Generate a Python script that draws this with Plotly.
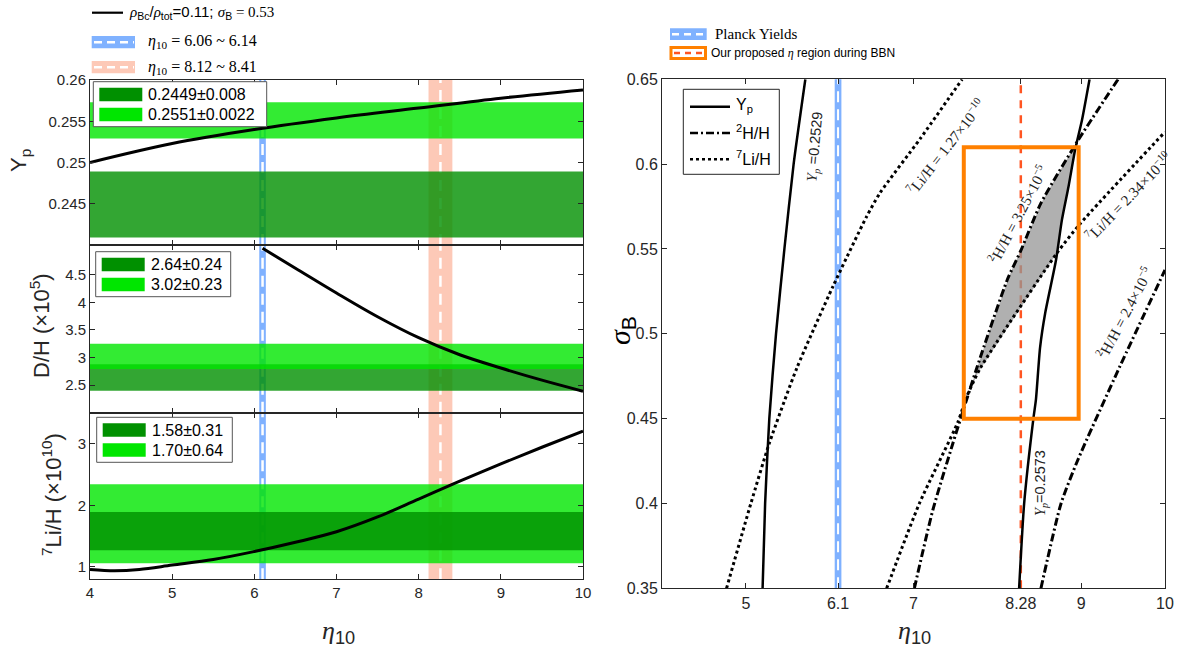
import plotly.graph_objects as go
import numpy as np

# ---------------- data: left panels ----------------
eta_Yp = [4, 5, 6, 7, 8, 9, 10]
Yp_vals = [0.2500, 0.2523, 0.2540, 0.2554, 0.2566, 0.2578, 0.2588]

eta_DH = [6.1, 6.5, 7.0, 7.5, 8.0, 8.5, 9.0, 9.5, 10.0]
DH_vals = [4.98, 4.62, 4.17, 3.74, 3.36, 3.05, 2.81, 2.59, 2.39]

eta_Li = [4.0, 4.3, 4.6, 5.0, 5.5, 6.0, 6.5, 7.0, 7.5, 8.0, 8.5, 9.0, 9.5, 10.0]
Li_vals = [0.96, 0.94, 0.96, 1.03, 1.12, 1.25, 1.40, 1.57, 1.81, 2.10, 2.39, 2.67, 2.94, 3.20]

Yp_obs_center = [0.2449, 0.2551]
Yp_obs_err = [0.004, 0.0022]
Yp_obs_labels = ["0.2449±0.008", "0.2551±0.0022"]
DH_obs_center = [2.64, 3.02]
DH_obs_err = [0.24, 0.23]
DH_obs_labels = ["2.64±0.24", "3.02±0.23"]
Li_obs_center = [1.58, 1.70]
Li_obs_err = [0.31, 0.64]
Li_obs_labels = ["1.58±0.31", "1.70±0.64"]

planck_eta = [6.06, 6.14]
proposed_eta = [8.12, 8.41]
eta_mark = 8.28

# ---------------- data: right panel contours ----------------
sig_Yp2529 = [0.35, 0.40, 0.45, 0.50, 0.55, 0.60, 0.65]
eta_Yp2529 = [5.20, 5.23, 5.28, 5.36, 5.46, 5.57, 5.71]

sig_Yp2573 = [0.35, 0.40, 0.45, 0.461, 0.492, 0.512, 0.5435, 0.567, 0.587, 0.609, 0.626, 0.65]
eta_Yp2573 = [8.26, 8.32, 8.43, 8.46, 8.51, 8.57, 8.70, 8.77, 8.85, 8.93, 9.01, 9.10]

sig_Li127 = [0.35, 0.40, 0.4355, 0.48, 0.528, 0.569, 0.583, 0.615, 0.65]
eta_Li127 = [4.77, 5.06, 5.28, 5.61, 6.04, 6.44, 6.60, 7.08, 7.58]

sig_Li234 = [0.35, 0.40, 0.448, 0.463, 0.48, 0.5474, 0.565, 0.619]
eta_Li234 = [6.68, 7.07, 7.53, 7.635, 7.80, 8.708, 8.99, 10.0]

sig_D325 = [0.35, 0.396, 0.4355, 0.4806, 0.532, 0.549, 0.577, 0.613, 0.65]
eta_D325 = [7.01, 7.23, 7.47, 7.76, 8.12, 8.28, 8.52, 8.95, 9.44]

sig_D24 = [0.35, 0.40, 0.4256, 0.4806, 0.5376]
eta_D24 = [8.52, 8.76, 8.96, 9.46, 10.0]

box_eta = [7.6, 8.97]
box_sigma = [0.45, 0.61]

# ---------------- layout helpers ----------------
W, H = 1177, 658
def PX(x): return x / W
def PY(y): return 1 - y / H

SANS = "Liberation Sans"
SERIF = "Liberation Serif"
AX = "#262626"
DARK = "rgb(0,144,0)"
LIGHT = "rgb(0,230,0)"
DARK_A = "rgba(0,144,0,0.8)"
LIGHT_A = "rgba(0,230,0,0.8)"
BLUE_A = "rgba(0,100,255,0.5)"
BLUE_S = "rgb(128,178,255)"
SALMON_A = "rgba(250,100,50,0.35)"
SALMON_S = "rgb(253,201,183)"
ORANGE = "#FF8000"
RED = "#FF5522"
WDASH = "11px,7px"
DASHDOT = "8px,3px,2px,3px"

fig = go.Figure()

# ---------------- left panels ----------------
panels = [
    ("x", "y", eta_Yp, Yp_vals, Yp_obs_center, Yp_obs_err, [0, 1]),
    ("x2", "y2", eta_DH, DH_vals, DH_obs_center, DH_obs_err, [0, 1]),
    ("x3", "y3", eta_Li, Li_vals, Li_obs_center, Li_obs_err, [1, 0]),
]
shapes = []
for xr, yr, ex, vy, cen, err, order in panels:
    cols = [DARK_A, LIGHT_A]
    for k in order:
        shapes.append(dict(type="rect", xref=xr, yref=yr, x0=4, x1=10,
                           y0=cen[k] - err[k], y1=cen[k] + err[k],
                           fillcolor=cols[k], line=dict(width=0), layer="below"))
    shapes.append(dict(type="rect", xref=xr, yref=yr + " domain", x0=planck_eta[0], x1=planck_eta[1],
                       y0=0, y1=1, fillcolor=BLUE_A, line=dict(width=0), layer="below"))
    shapes.append(dict(type="rect", xref=xr, yref=yr + " domain", x0=proposed_eta[0], x1=proposed_eta[1],
                       y0=0, y1=1, fillcolor=SALMON_A, line=dict(width=0), layer="below"))
    for c in [np.mean(planck_eta), np.mean(proposed_eta)]:
        shapes.append(dict(type="line", xref=xr, yref=yr + " domain", x0=c, x1=c, y0=0, y1=1,
                           line=dict(color="white", width=2.5, dash=WDASH), layer="below"))
    fig.add_trace(go.Scatter(x=ex, y=vy, xaxis=xr, yaxis=yr, mode="lines",
                             line=dict(color="black", width=3, shape="spline"), showlegend=False))

# ---------------- right panel ----------------
shapes.append(dict(type="rect", xref="x4", yref="y4 domain", x0=planck_eta[0], x1=planck_eta[1],
                   y0=0, y1=1, fillcolor=BLUE_A, line=dict(width=0), layer="below"))
shapes.append(dict(type="line", xref="x4", yref="y4 domain", x0=np.mean(planck_eta), x1=np.mean(planck_eta),
                   y0=0, y1=1, line=dict(color="white", width=2, dash=WDASH), layer="below"))
shapes.append(dict(type="line", xref="x4", yref="y4 domain", x0=eta_mark, x1=eta_mark,
                   y0=0, y1=1, line=dict(color=RED, width=2.5, dash="8px,7px"), layer="below"))

# allowed region (grey)
sg = np.linspace(0.43, 0.63, 600)
lft = np.interp(sg, sig_D325, eta_D325)
rgt = np.minimum(np.interp(sg, sig_Li234, eta_Li234), np.interp(sg, sig_Yp2573, eta_Yp2573))
m = rgt > lft
reg_x = np.concatenate([lft[m], rgt[m][::-1]])
reg_y = np.concatenate([sg[m], sg[m][::-1]])
fig.add_trace(go.Scatter(x=reg_x, y=reg_y, xaxis="x4", yaxis="y4", mode="lines", fill="toself",
                         fillcolor="rgba(150,150,150,0.75)", line=dict(width=0), showlegend=False))

for sx, ex, dash in [(sig_D325, eta_D325, DASHDOT), (sig_D24, eta_D24, DASHDOT),
                     (sig_Li127, eta_Li127, "dot"), (sig_Li234, eta_Li234, "dot"),
                     (sig_Yp2529, eta_Yp2529, "solid"), (sig_Yp2573, eta_Yp2573, "solid")]:
    fig.add_trace(go.Scatter(x=ex, y=sx, xaxis="x4", yaxis="y4", mode="lines",
                             line=dict(color="black", width=3 if dash != "solid" else 2.5,
                                       dash=dash, shape="spline", smoothing=0.6),
                             showlegend=False))

shapes.append(dict(type="rect", xref="x4", yref="y4", x0=box_eta[0], x1=box_eta[1],
                   y0=box_sigma[0], y1=box_sigma[1], line=dict(color=ORANGE, width=4), layer="above"))

# ---------------- manual legends ----------------
ann = []
def txt(x, y, t, size=16, family=SANS, xanchor="left", angle=0, color="black", xref="paper", yref="paper"):
    ann.append(dict(x=x, y=y, xref=xref, yref=yref, text=t, showarrow=False, xanchor=xanchor,
                    yanchor="middle", textangle=angle, font=dict(family=family, size=size, color=color)))

# left inner legends
inner = [
    (93.3, 81.7, 266.7, 126.7, Yp_obs_labels),
    (95.7, 251.7, 230.7, 296.7, DH_obs_labels),
    (96.7, 417.3, 232.3, 462.3, Li_obs_labels),
]
for x0, y0, x1, y1, labs in inner:
    shapes.append(dict(type="rect", xref="paper", yref="paper", x0=PX(x0), x1=PX(x1), y0=PY(y0), y1=PY(y1),
                       fillcolor="white", line=dict(color="#555555", width=1), layer="above"))
    for k, col in enumerate([DARK, LIGHT]):
        yt = y0 + 6 + k * 20
        shapes.append(dict(type="rect", xref="paper", yref="paper", x0=PX(x0 + 6), x1=PX(x0 + 49),
                           y0=PY(yt), y1=PY(yt + 13.5), fillcolor=col, line=dict(width=0), layer="above"))
        txt(PX(x0 + 53), PY(yt + 7), labs[k], size=16)

# top-left legend
shapes.append(dict(type="line", xref="paper", yref="paper", x0=PX(92), x1=PX(123), y0=PY(12.7), y1=PY(12.7),
                   line=dict(color="black", width=2.2)))
txt(PX(127), PY(13),
    '<span style="font-family:Liberation Serif"><i>ρ</i></span><sub>Bc</sub>/'
    '<span style="font-family:Liberation Serif"><i>ρ</i></span><sub>tot</sub>=0.11; '
    '<span style="font-family:Liberation Serif"><i>σ</i></span><sub>B</sub>'
    '<span style="font-family:Liberation Serif"> = 0.53</span>', size=15)
for yy, fill, lab in [(36, BLUE_S, "6.06 ~ 6.14"), (61, SALMON_S, "8.12 ~ 8.41")]:
    shapes.append(dict(type="rect", xref="paper", yref="paper", x0=PX(91.7), x1=PX(135), y0=PY(yy), y1=PY(yy + 12.3),
                       fillcolor=fill, line=dict(width=0)))
    shapes.append(dict(type="line", xref="paper", yref="paper", x0=PX(94), x1=PX(134), y0=PY(yy + 6.2), y1=PY(yy + 6.2),
                       line=dict(color="white", width=2.5, dash="8px,5px")))
    txt(PX(146), PY(yy + 6), "<i>η</i><sub>10</sub> = " + lab, size=16, family=SERIF)

# top-right legend
shapes.append(dict(type="rect", xref="paper", yref="paper", x0=PX(670), x1=PX(706.7), y0=PY(28.3), y1=PY(40),
                   fillcolor=BLUE_S, line=dict(width=0)))
shapes.append(dict(type="line", xref="paper", yref="paper", x0=PX(672), x1=PX(705), y0=PY(34.2), y1=PY(34.2),
                   line=dict(color="white", width=2.5, dash="7px,5px")))
txt(PX(713), PY(34), "Planck Yields", size=15, family=SERIF)
shapes.append(dict(type="rect", xref="paper", yref="paper", x0=PX(671), x1=PX(705.5), y0=PY(47.5), y1=PY(58.5),
                   fillcolor="white", line=dict(color=ORANGE, width=3)))
shapes.append(dict(type="line", xref="paper", yref="paper", x0=PX(674), x1=PX(703), y0=PY(53), y1=PY(53),
                   line=dict(color=RED, width=2.5, dash="6px,5px")))
txt(PX(709), PY(53), 'Our proposed <span style="font-family:Liberation Serif"><i>η</i></span> region during BBN', size=12)

# right inner legend
shapes.append(dict(type="rect", xref="paper", yref="paper", x0=PX(683.3), x1=PX(779.3), y0=PY(89.3), y1=PY(174.3),
                   fillcolor="white", line=dict(color=AX, width=1), layer="above"))
for yy, dash, lab in [(106.7, "solid", "Y<sub>p</sub>"), (133, DASHDOT, "<sup>2</sup>H/H"),
                      (159.3, "dot", "<sup>7</sup>Li/H")]:
    shapes.append(dict(type="line", xref="paper", yref="paper", x0=PX(690), x1=PX(730), y0=PY(yy), y1=PY(yy),
                       line=dict(color="black", width=2.5, dash=dash), layer="above"))
    txt(PX(734), PY(yy - 1), lab, size=16)

# right-panel contour labels
yser = '<span style="font-family:Liberation Serif"><i>Y<sub>p</sub></i></span>'
for t, ex, sy, ang, fam, sz in [
    (yser + " =0.2529", 5.825, 0.6103, -85, SANS, 14.5),
    ("<sup>7</sup>Li/H = 1.27×10<sup>−10</sup>", 7.39, 0.6105, -52, SERIF, 15),
    ("<sup>2</sup>H/H = 3.25×10<sup>−5</sup>", 8.245, 0.5705, -62, SERIF, 15),
    ("<sup>7</sup>Li/H = 2.34×10<sup>−10</sup>", 9.56, 0.5815, -46, SERIF, 15),
    ("<sup>2</sup>H/H = 2.4×10<sup>−5</sup>", 9.51, 0.5125, -62, SERIF, 15),
    (yser + "=0.2573", 8.521, 0.412, -90, SANS, 14.5),
]:
    ann.append(dict(x=ex, y=sy, xref="x4", yref="y4", text=t, showarrow=False, textangle=ang,
                    xanchor="center", yanchor="middle", font=dict(family=fam, size=sz, color="#222222")))

# axis titles
txt(PX(20), PY(161), "Y<sub>p</sub>", size=22, xanchor="center", angle=-90, color=AX)
txt(PX(40), PY(326), "D/H (×10<sup>5</sup>)", size=22, xanchor="center", angle=-90, color=AX)
txt(PX(52), PY(495), "<sup>7</sup>Li/H (×10<sup>10</sup>)", size=22, xanchor="center", angle=-90, color=AX)
eta_t = '<span style="font-family:Liberation Serif"><i>η</i></span><sub>10</sub>'
txt(PX(338), PY(632), eta_t, size=26, xanchor="center", color=AX)
txt(PX(914), PY(632), eta_t, size=26, xanchor="center", color=AX)
txt(PX(621), PY(331), '<span style="font-family:Liberation Serif"><i>σ</i></span><sub>B</sub>',
    size=30, xanchor="center", angle=-90, color="black")

# ---------------- axes ----------------
base = dict(showline=True, linecolor=AX, linewidth=1, mirror="ticks", ticks="inside", ticklen=5,
            tickcolor=AX, showgrid=False, zeroline=False, automargin=False,
            tickfont=dict(family=SANS, size=15, color=AX))
LEFT = [PX(90), PX(583)]
RIGHT = [PX(662), PX(1165)]
dom1 = [PY(245), PY(80)]
dom2 = [PY(412.7), PY(245)]
dom3 = [PY(579.3), PY(412.7)]
domR = [PY(588.3), PY(79.3)]

xt = [4, 5, 6, 7, 8, 9, 10]
fig.update_layout(
    width=W, height=H, margin=dict(l=0, r=0, t=0, b=0, pad=0), autosize=False,
    paper_bgcolor="white", plot_bgcolor="white", showlegend=False,
    shapes=shapes, annotations=ann,
    xaxis=dict(base, domain=LEFT, anchor="y", range=[4, 10], tickvals=xt, showticklabels=False),
    xaxis2=dict(base, domain=LEFT, anchor="y2", range=[4, 10], tickvals=xt, showticklabels=False),
    xaxis3=dict(base, domain=LEFT, anchor="y3", range=[4, 10], tickvals=xt, ticktext=[str(v) for v in xt]),
    yaxis=dict(base, domain=dom1, anchor="x", range=[0.24, 0.26],
               tickvals=[0.245, 0.25, 0.255, 0.26], ticktext=["0.245", "0.25", "0.255", "0.26"]),
    yaxis2=dict(base, domain=dom2, anchor="x2", range=[2.0, 5.04],
                tickvals=[2.5, 3, 3.5, 4, 4.5], ticktext=["2.5", "3", "3.5", "4", "4.5"]),
    yaxis3=dict(base, domain=dom3, anchor="x3", range=[0.8, 3.5],
                tickvals=[1, 2, 3], ticktext=["1", "2", "3"]),
    xaxis4=dict(base, domain=RIGHT, anchor="y4", range=[4, 10],
                tickvals=[5, 6.1, 7, 8.28, 9, 10], ticktext=["5", "6.1", "7", "8.28", "9", "10"],
                tickfont=dict(family=SANS, size=16, color=AX)),
    yaxis4=dict(base, domain=domR, anchor="x4", range=[0.35, 0.65],
                tickvals=[0.35, 0.4, 0.45, 0.5, 0.55, 0.6, 0.65],
                ticktext=["0.35", "0.4", "0.45", "0.5", "0.55", "0.6", "0.65"],
                tickfont=dict(family=SANS, size=16, color=AX)),
)

fig.write_html("out.html", config={"responsive": False, "displayModeBar": False},
               post_script="document.body.style.margin='0';document.body.style.overflow='hidden';")
